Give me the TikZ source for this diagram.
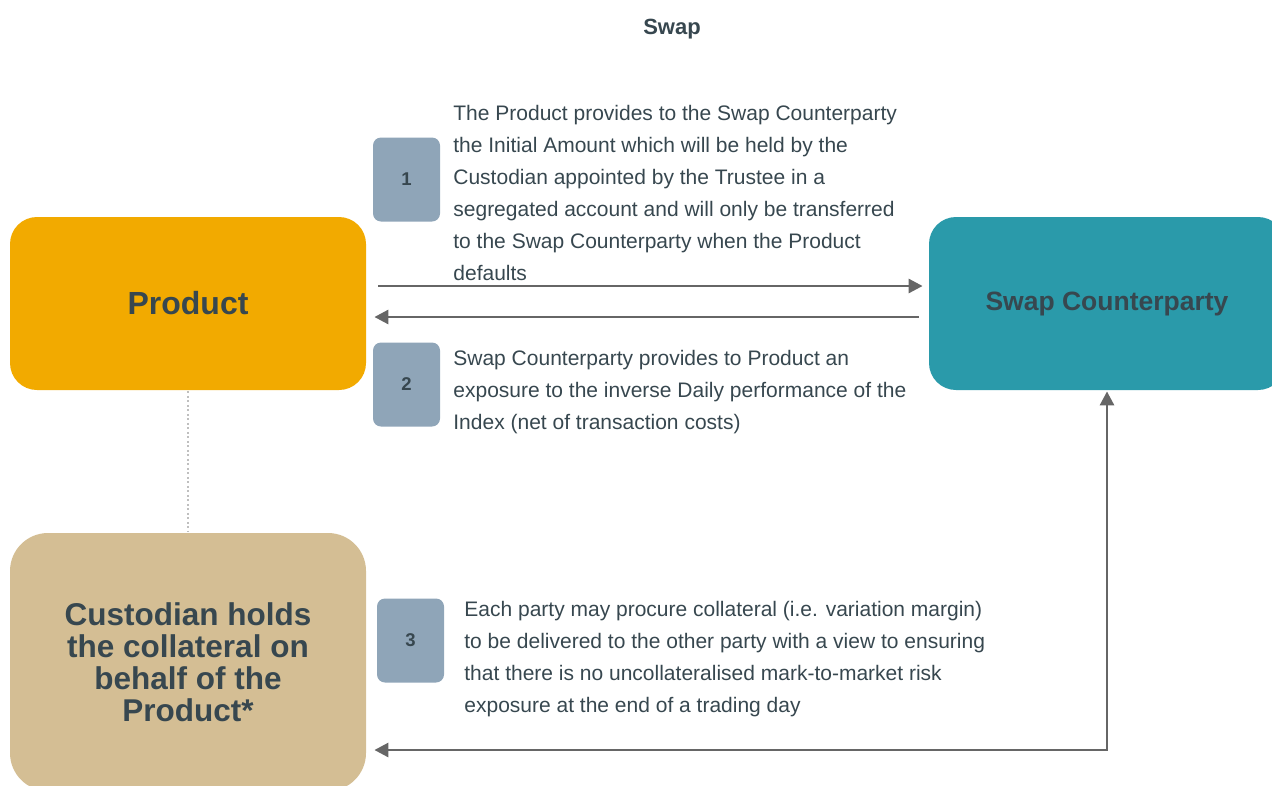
\documentclass[tikz,border=0pt]{standalone}
\usepackage{fontspec}
\setmainfont{Liberation Sans}
\usepackage{tikz}
\usetikzlibrary{arrows.meta,positioning}
\definecolor{prodyellow}{RGB}{242,170,0}
\definecolor{swapteal}{RGB}{42,154,170}
\definecolor{custtan}{RGB}{212,190,148}
\definecolor{stepgrey}{RGB}{143,165,184}
\definecolor{inkslate}{RGB}{55,71,79}
\definecolor{arrowgrey}{RGB}{102,102,102}

\begin{document}
\begin{tikzpicture}[x=1pt,y=-1pt,->,>={Triangle[length=14pt,width=14pt]},
                    line width=2.8pt]
  \tikzstyle{party}=[rounded corners=27pt,minimum width=356pt,text=inkslate,align=center,inner sep=0pt]
  \tikzstyle{number}=[fill=stepgrey,rounded corners=8pt,minimum width=67pt,minimum height=84pt,text=inkslate,font=\fontsize{18.5}{20}\selectfont\bfseries]
  \tikzstyle{explain}=[anchor=north west,align=left,inner sep=0pt,text=inkslate,font=\fontsize{21}{32}\selectfont]
  \tikzstyle{flow}=[draw=arrowgrey]

  \useasboundingbox (0,0) rectangle (1272,785);

  \node[text=inkslate,font=\fontsize{22}{24}\selectfont\bfseries] (title) at (672,29) {Swap};

  \node[party,fill=prodyellow,minimum height=173pt,font=\fontsize{32}{32}\selectfont\bfseries] (product) at (188,303.5) {Product};
  \node[party,fill=swapteal,minimum height=173pt,font=\fontsize{26.5}{28}\selectfont\bfseries] (swap) at (1107,303.5) {Swap Counterparty};
  \node[party,fill=custtan,minimum height=258pt,rounded corners=38pt,font=\fontsize{31.5}{32}\selectfont\bfseries] (custodian) at (188,662)
       {Custodian holds\\the collateral on\\behalf of the\\Product*};

  \node[number] (one)   at (406.5,179.5) {1};
  \node[number] (two)   at (406.5,384.5) {2};
  \node[number] (three) at (410.5,640.5) {3};

  \node[explain] (oneText) at (452,104) {The Product provides to the Swap Counterparty\\the Initial Amount which will be held by the\\Custodian appointed by the Trustee in a\\segregated account and will only be transferred\\to the Swap Counterparty when the Product\\defaults};
  \node[explain] (twoText) at (452,349) {Swap Counterparty provides to Product an\\exposure to the inverse Daily performance of the\\Index (net of transaction costs)};
  \node[explain] (threeText) at (463,600) {Each party may procure collateral (i.e. variation margin)\\to be delivered to the other party with a view to ensuring\\that there is no uncollateralised mark-to-market risk\\exposure at the end of a trading day};

  \draw[flow,shorten <=11pt,shorten >=5pt] ([yshift=17.5pt]product.east) -- ([yshift=17.5pt]swap.west);
  \draw[flow,shorten <=9pt,shorten >=7pt] ([yshift=-13.5pt]swap.west) -- ([yshift=-13.5pt]product.east);
  \draw[flow,<->,shorten <=7pt,shorten >=0pt] ([yshift=-88pt]custodian.east) -| (swap.south);
  \draw[-,draw=black!25,line width=2pt,dash pattern=on 2pt off 2.5pt] (product.south) -- (custodian.north);
\end{tikzpicture}
\end{document}
